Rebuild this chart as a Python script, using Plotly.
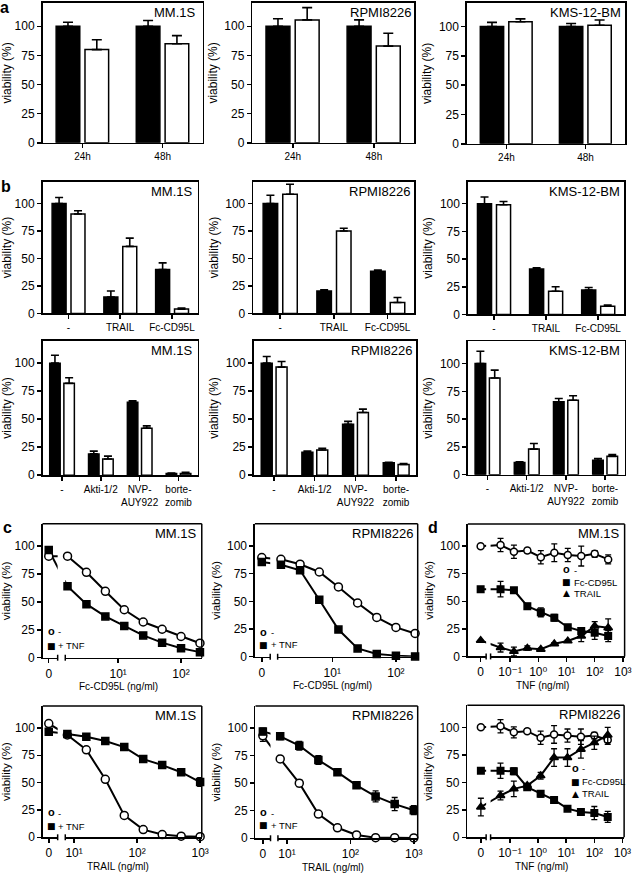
import math
import plotly.graph_objects as go

W, H = 642, 879
FONT = "Liberation Sans, Arial, DejaVu Sans, sans-serif"
SYMFONT = "DejaVu Sans"
Y_TITLE = "viability (%)"
Y_TICKS = [0, 25, 50, 75, 100]

# ---------------- data : panel a ----------------
a_categories = ["24h", "48h"]
a_mm1s_black = [100, 100]
a_mm1s_black_err = [3.5, 5]
a_mm1s_white = [80, 85]
a_mm1s_white_err = [8.5, 7]
a_rpmi_black = [100, 100]
a_rpmi_black_err = [6.5, 5.5]
a_rpmi_white = [105.5, 83]
a_rpmi_white_err = [10.5, 11]
a_kms_black = [100, 100]
a_kms_black_err = [3.5, 2.5]
a_kms_white = [104, 101]
a_kms_white_err = [2.5, 4.5]

# ---------------- data : panel b (top) ----------------
b1_categories = ["-", "TRAIL", "Fc-CD95L"]
b1_mm1s_black = [100, 15, 40]
b1_mm1s_black_err = [5.5, 5.5, 6]
b1_mm1s_white = [90.5, 61, 4]
b1_mm1s_white_err = [3, 7.5, 1]
b1_rpmi_black = [100, 20.5, 38.5]
b1_rpmi_black_err = [7.5, 1, 1]
b1_rpmi_white = [108.5, 75, 10]
b1_rpmi_white_err = [9, 2.5, 4.5]
b1_kms_black = [100, 41, 22]
b1_kms_black_err = [6, 1.2, 2.4]
b1_kms_white = [99, 21, 7.5]
b1_kms_white_err = [3, 4, 1]

# ---------------- data : panel b (bottom) ----------------
b2_categories = ["-", "Akti-1/2", "NVP-<br>AUY922", "borte-<br>zomib"]
b2_mm1s_black = [100, 19, 65, 1.5]
b2_mm1s_black_err = [7, 2.5, 1.5, 0.5]
b2_mm1s_white = [82, 14.5, 42, 1.5]
b2_mm1s_white_err = [5, 2.5, 2, 1]
b2_rpmi_black = [100, 20.5, 45.5, 11]
b2_rpmi_black_err = [6, 1, 2.5, 0.6]
b2_rpmi_white = [96.5, 22.5, 56, 9.5]
b2_rpmi_white_err = [5, 1.5, 3, 0.8]
b2_kms_black = [100, 11, 65.5, 13]
b2_kms_black_err = [11, 0.6, 3, 1.5]
b2_kms_white = [87, 23, 67, 16.5]
b2_kms_white_err = [7, 5, 4, 1.5]

# ---------------- data : panel c ----------------
fc_conc = [1.5625, 3.125, 6.25, 12.5, 25, 50, 100, 200]
c1_mm1s_minus_zero = 91
c1_mm1s_minus = [91, 76.5, 59.5, 43, 32, 25.5, 19, 13]
c1_mm1s_minus_err = [1, 2, 1, 1, 1, 1, 1, 1.5]
c1_mm1s_tnf_zero = 96.5
c1_mm1s_tnf = [64, 48, 37, 28.5, 20, 13.5, 8.5, 5]
c1_mm1s_tnf_err = [1, 1, 1, 1, 1, 1, 1, 1]
c1_rpmi_minus_zero = 89.5
c1_rpmi_minus = [88, 83.5, 76.5, 63, 48.5, 35.5, 26.5, 21]
c1_rpmi_minus_err = [2, 2, 2, 1, 2, 1, 1, 1]
c1_rpmi_tnf_zero = 85.5
c1_rpmi_tnf = [83, 78, 51.5, 24.5, 7.5, 2.5, 1, 0.3]
c1_rpmi_tnf_err = [1, 1, 2, 1, 1, 0.5, 0.5, 0.3]

trail_conc = [7.8125, 15.625, 31.25, 62.5, 125, 250, 500, 1000]
c2_mm1s_minus_zero = 104
c2_mm1s_minus = [93.5, 80, 53, 20, 7, 2.5, 1, 0.5]
c2_mm1s_minus_err = [1, 1, 1.5, 1, 0.5, 0.5, 0.3, 0.3]
c2_mm1s_tnf_zero = 96.5
c2_mm1s_tnf = [94.5, 92, 88, 82.5, 71.5, 66, 59.5, 50.5]
c2_mm1s_tnf_err = [1, 1, 1, 1, 1, 1, 1, 4]
c2_rpmi_minus_zero = 93
c2_rpmi_minus = [72, 50, 22, 9.5, 3, 0.5, 0.5, 0.3]
c2_rpmi_minus_err = [2, 3, 1, 1, 0.5, 0.3, 0.3, 0.3]
c2_rpmi_tnf_zero = 97
c2_rpmi_tnf = [92.5, 84, 71, 60, 48, 38, 31, 25.5]
c2_rpmi_tnf_err = [3, 4, 4, 2, 2, 5, 6, 4]

# ---------------- data : panel d ----------------
tnf_conc = [0.046, 0.137, 0.41, 1.23, 3.7, 11.1, 33.3, 100, 300]
d1_minus_zero = 100
d1_minus = [101, 95, 96, 90, 94, 92, 91, 93, 88]
d1_minus_err = [6, 6, 2, 6, 8, 6, 9, 3, 4]
d1_fc_zero = 61
d1_fc = [61, 60, 45.5, 40, 35, 26.5, 23, 21.5, 18.5]
d1_fc_err = [7, 2, 2.5, 4, 3, 1, 3, 6, 5]
d1_trail_zero = 14.5
d1_trail = [8, 4.5, 7.5, 6.5, 11.5, 14, 18.5, 27.5, 26]
d1_trail_err = [4, 4, 2, 1, 1, 1, 5, 4, 8]

d2_minus_zero = 100
d2_minus = [101, 95.5, 96.5, 90.5, 93.5, 92.5, 91.5, 92.5, 88.5]
d2_minus_err = [6, 5, 2, 6, 8, 6, 7, 3, 4]
d2_fc_zero = 60.5
d2_fc = [60.5, 60, 45.5, 39.5, 34, 26, 23, 22, 18.5]
d2_fc_err = [7, 3, 2, 3, 3, 1, 2, 6, 5]
d2_trail_zero = 27.5
d2_trail = [38, 44, 47, 56, 72.5, 72.5, 80, 86, 93]
d2_trail_err = [4, 7, 2, 3, 8, 8, 8, 6, 7]

fc_ticks = [10, 100]
fc_ticktext = ["10¹", "10²"]
trail_ticks = [10, 100, 1000]
trail_ticktext = ["10¹", "10²", "10³"]
tnf_ticks = [0.1, 1, 10, 100, 1000]
tnf_ticktext = ["10⁻¹", "10⁰", "10¹", "10²", "10³"]

# ---------------- helpers ----------------
fig = go.Figure()
axes = {}
shapes = []
annotations = []
cnt = {"x": 0, "y": 0}


def new(kind):
    cnt[kind] += 1
    n = cnt[kind]
    s = "" if n == 1 else str(n)
    return kind + s, kind + "axis" + s


def xp(v):
    return v / W


def yp(v):
    return 1 - v / H


def base_axis(**kw):
    d = dict(showline=True, linecolor="black", linewidth=1.5, ticks="outside",
             ticklen=4, tickwidth=1.5, tickcolor="black", showgrid=False,
             zeroline=False, fixedrange=True,
             tickfont=dict(family=FONT, size=12, color="black"))
    d.update(kw)
    return d


def y_axis(anchor, t, b, mirror, title_size):
    return base_axis(anchor=anchor, domain=[yp(b), yp(t)], range=[0, 120],
                     tickvals=Y_TICKS, mirror=mirror,
                     title=dict(text=Y_TITLE, standoff=4,
                                font=dict(family=FONT, size=title_size, color="black")))


def text(s, x, y, xa="center", ya="middle", size=12, bold=False, family=FONT):
    annotations.append(dict(text=("<b>%s</b>" % s) if bold else s, x=xp(x), y=yp(y),
                            xref="paper", yref="paper", xanchor=xa, yanchor=ya,
                            showarrow=False, font=dict(family=family, size=size, color="black")))


def line_shape(x0, y0, x1, y1, w=1.5):
    shapes.append(dict(type="line", xref="paper", yref="paper", x0=xp(x0), y0=yp(y0),
                       x1=xp(x1), y1=yp(y1), line=dict(color="black", width=w)))


def bar_panel(box, cats, black, black_err, white, white_err, cell, bw, offs, cap, inset=2.5):
    l, r, t, b = box
    xr, xk = new("x")
    yr, yk = new("y")
    axes[xk] = base_axis(anchor=yr, domain=[xp(l), xp(r)], mirror=True, type="category",
                         range=[-0.5, len(cats) - 0.5],
                         tickfont=dict(family=FONT, size=10, color="black"))
    axes[yk] = y_axis(xr, t, b, True, 12)
    for vals, errs, col, off in ((black, black_err, "black", offs[0]),
                                 (white, white_err, "white", offs[1])):
        fig.add_trace(go.Bar(
            x=cats, y=vals, width=bw, offset=off, xaxis=xr, yaxis=yr,
            marker=dict(color=col, line=dict(color="black", width=1.5)),
            error_y=dict(type="data", symmetric=False, array=errs,
                         arrayminus=[0] * len(errs), color="black", thickness=1.6, width=cap),
            showlegend=False, hoverinfo="skip"))
    text(cell, r - inset, t, xa="right", ya="top", size=13)


def line_panel(box, brk, zero_frac, log_range, tickvals, ticktext, conc, series,
               cell, xtitle, leg_x, leg_rows, msize):
    l, r, t, b = box
    b0, b1 = brk
    xl, xlk = new("x")
    xg, xgk = new("x")
    yr, yk = new("y")
    lin_range = [-zero_frac, 1 - zero_frac]
    axes[xlk] = base_axis(anchor=yr, domain=[xp(l), xp(b0)], range=lin_range,
                          tickvals=[0], ticktext=["0"])
    axes[xgk] = base_axis(anchor=yr, domain=[xp(b1), xp(r)], type="log", range=log_range,
                          tickvals=tickvals, ticktext=ticktext,
                          tickfont=dict(family=FONT, size=12, color="black"))
    axes[yk] = y_axis(xl, t, b, False, 11.5)
    # frame (top/right) and axis-break marks
    line_shape(l, t, r, t)
    line_shape(r, t, r, b)
    line_shape(b0, b - 3, b0, b + 3)
    line_shape(b1, b - 3, b1, b + 3)

    # connectors from the "0" point to the first dose (clipped by each subplot)
    dl0, dl1 = xp(l), xp(b0)
    dg0, dg1 = xp(b1), xp(r)
    p0 = dl0 + (0 - lin_range[0]) / (lin_range[1] - lin_range[0]) * (dl1 - dl0)
    p1 = dg0 + (math.log10(conc[0]) - log_range[0]) / (log_range[1] - log_range[0]) * (dg1 - dg0)
    x_end_lin = lin_range[0] + (p1 - dl0) / (dl1 - dl0) * (lin_range[1] - lin_range[0])
    x_start_log = 10 ** (log_range[0] + (p0 - dg0) / (dg1 - dg0) * (log_range[1] - log_range[0]))
    lw = dict(color="black", width=2)
    for s in series:
        fig.add_trace(go.Scatter(x=[0, x_end_lin], y=[s["zero"], s["vals"][0]], mode="lines",
                                 line=lw, xaxis=xl, yaxis=yr, showlegend=False, hoverinfo="skip"))
        fig.add_trace(go.Scatter(x=[x_start_log, conc[0]], y=[s["zero"], s["vals"][0]], mode="lines",
                                 line=lw, xaxis=xg, yaxis=yr, showlegend=False, hoverinfo="skip"))
    for s in series:
        mk = dict(symbol=s["symbol"], size=msize[s["symbol"]], color=s["fill"],
                  line=dict(color="black", width=1.5))

        def err(a):
            return dict(type="data", array=a, color="black", thickness=1.3, width=3)
        fig.add_trace(go.Scatter(x=conc, y=s["vals"], error_y=err(s["errs"]), mode="lines+markers",
                                 line=lw, marker=mk, xaxis=xg, yaxis=yr, cliponaxis=False,
                                 name=s["name"], showlegend=False))
        fig.add_trace(go.Scatter(x=[0], y=[s["zero"]], error_y=err([s.get("zero_err", 0)]),
                                 mode="markers", marker=mk, xaxis=xl, yaxis=yr, cliponaxis=False,
                                 name=s["name"], showlegend=False))
    text(cell, r - 2.5, t, xa="right", ya="top", size=13)
    # x axis title
    text(xtitle, (l + r) / 2 - 4, b + 29, size=10)
    # key (legend)
    for y, s in zip(leg_rows, series):
        if s["symbol"] == "circle":
            text("o", leg_x, y - 1, size=11, bold=True)
        elif s["symbol"] == "square":
            text("■", leg_x, y, size=9, family=SYMFONT)
        else:
            text("▲", leg_x, y, size=9, family=SYMFONT)
        text(s["name"], leg_x + 5, y, xa="left", size=9.5)


def ser(name, symbol, fill, zero, vals, errs, zero_err=0):
    return dict(name=name, symbol=symbol, fill=fill, zero=zero, vals=vals, errs=errs, zero_err=zero_err)


# ---------------- panel a ----------------
A_W, A_OFF = 0.295, (-0.33, 0.03)
bar_panel((43, 205, 3, 144), a_categories, a_mm1s_black, a_mm1s_black_err,
          a_mm1s_white, a_mm1s_white_err, "MM.1S", A_W, A_OFF, 5, inset=5)
bar_panel((255, 419, 3, 144), a_categories, a_rpmi_black, a_rpmi_black_err,
          a_rpmi_white, a_rpmi_white_err, "RPMI8226", A_W, A_OFF, 5, inset=1.5)
bar_panel((472, 632, 3, 145), a_categories, a_kms_black, a_kms_black_err,
          a_kms_white, a_kms_white_err, "KMS-12-BM", A_W, A_OFF, 5)

# ---------------- panel b ----------------
B_W, B_OFF = 0.27, (-0.315, 0.05)
bar_panel((43, 200, 183, 316), b1_categories, b1_mm1s_black, b1_mm1s_black_err,
          b1_mm1s_white, b1_mm1s_white_err, "MM.1S", B_W, B_OFF, 4)
bar_panel((256, 419, 183, 316), b1_categories, b1_rpmi_black, b1_rpmi_black_err,
          b1_rpmi_white, b1_rpmi_white_err, "RPMI8226", B_W, B_OFF, 4)
bar_panel((473, 631, 183, 317), b1_categories, b1_kms_black, b1_kms_black_err,
          b1_kms_white, b1_kms_white_err, "KMS-12-BM", B_W, B_OFF, 4)

bar_panel((43, 200, 343.5, 479), b2_categories, b2_mm1s_black, b2_mm1s_black_err,
          b2_mm1s_white, b2_mm1s_white_err, "MM.1S", B_W, B_OFF, 4)
bar_panel((256.5, 421, 343.5, 479), b2_categories, b2_rpmi_black, b2_rpmi_black_err,
          b2_rpmi_white, b2_rpmi_white_err, "RPMI8226", B_W, B_OFF, 4)
bar_panel((473, 631.5, 344, 478.5), b2_categories, b2_kms_black, b2_kms_black_err,
          b2_kms_white, b2_kms_white_err, "KMS-12-BM", B_W, B_OFF, 4)

# ---------------- panel c ----------------
C_MS = {"circle": 8, "square": 7, "triangle-up": 8}
line_panel((43, 204, 528, 663), (58.3, 66), 0.41, [0.158, 2.33], fc_ticks, fc_ticktext, fc_conc,
           [ser("-", "circle", "white", c1_mm1s_minus_zero, c1_mm1s_minus, c1_mm1s_minus_err),
            ser("+ TNF", "square", "black", c1_mm1s_tnf_zero, c1_mm1s_tnf, c1_mm1s_tnf_err)],
           "MM.1S", "Fc-CD95L (ng/ml)", 52, [637, 651], C_MS)
line_panel((257.7, 422.3, 528, 662), (273.2, 280.7), 0.45, [0.142, 2.342], fc_ticks, fc_ticktext, fc_conc,
           [ser("-", "circle", "white", c1_rpmi_minus_zero, c1_rpmi_minus, c1_rpmi_minus_err),
            ser("+ TNF", "square", "black", c1_rpmi_tnf_zero, c1_rpmi_tnf, c1_rpmi_tnf_err)],
           "RPMI8226", "Fc-CD95L (ng/ml)", 266.5, [638, 650], C_MS)
line_panel((43.3, 204, 711.7, 844), (58.3, 66), 0.4, [0.86, 3.026], trail_ticks, trail_ticktext, trail_conc,
           [ser("-", "circle", "white", c2_mm1s_minus_zero, c2_mm1s_minus, c2_mm1s_minus_err),
            ser("+ TNF", "square", "black", c2_mm1s_tnf_zero, c2_mm1s_tnf, c2_mm1s_tnf_err)],
           "MM.1S", "TRAIL (ng/ml)", 52, [820, 833], C_MS)
line_panel((258.3, 422.3, 711.7, 845), (273.5, 281), 0.49, [0.857, 3.062], trail_ticks, trail_ticktext, trail_conc,
           [ser("-", "circle", "white", c2_rpmi_minus_zero, c2_rpmi_minus, c2_rpmi_minus_err, 5),
            ser("+ TNF", "square", "black", c2_rpmi_tnf_zero, c2_rpmi_tnf, c2_rpmi_tnf_err, 3)],
           "RPMI8226", "TRAIL (ng/ml)", 266.5, [820, 832], C_MS)

# ---------------- panel d ----------------
D_MS = {"circle": 7, "square": 6.5, "triangle-up": 7.5}
line_panel((473, 631.5, 528.3, 661.7), (491.5, 496), 0.7, [-1.69, 3.06], tnf_ticks, tnf_ticktext, tnf_conc,
           [ser("-", "circle", "white", d1_minus_zero, d1_minus, d1_minus_err),
            ser("Fc-CD95L", "square", "black", d1_fc_zero, d1_fc, d1_fc_err, 1.5),
            ser("TRAIL", "triangle-up", "black", d1_trail_zero, d1_trail, d1_trail_err)],
           "MM.1S", "TNF (ng/ml)", 573, [575, 587, 598], D_MS)
line_panel((472.5, 631, 711, 844), (491.5, 496), 0.72, [-1.69, 3.06], tnf_ticks, tnf_ticktext, tnf_conc,
           [ser("-", "circle", "white", d2_minus_zero, d2_minus, d2_minus_err),
            ser("Fc-CD95L", "square", "black", d2_fc_zero, d2_fc, d2_fc_err, 1.5),
            ser("TRAIL", "triangle-up", "black", d2_trail_zero, d2_trail, d2_trail_err, 8)],
           "RPMI8226", "TNF (ng/ml)", 581.5, [775, 788, 800], D_MS)

# ---------------- panel letters ----------------
text("a", 4.5, 7.5, size=16, bold=True)
text("b", 6, 188, size=16, bold=True)
text("c", 7.5, 532, size=16, bold=True)
text("d", 437.5, 532, size=16, bold=True)

fig.update_layout(
    width=W, height=H, margin=dict(l=0, r=0, t=0, b=0),
    paper_bgcolor="white", plot_bgcolor="white",
    showlegend=False, barmode="overlay",
    font=dict(family=FONT, color="black"),
    shapes=shapes, annotations=annotations, **axes)

fig.write_html("out.html", config={"displayModeBar": False, "staticPlot": True},
               post_script="document.body.style.margin='0';")
